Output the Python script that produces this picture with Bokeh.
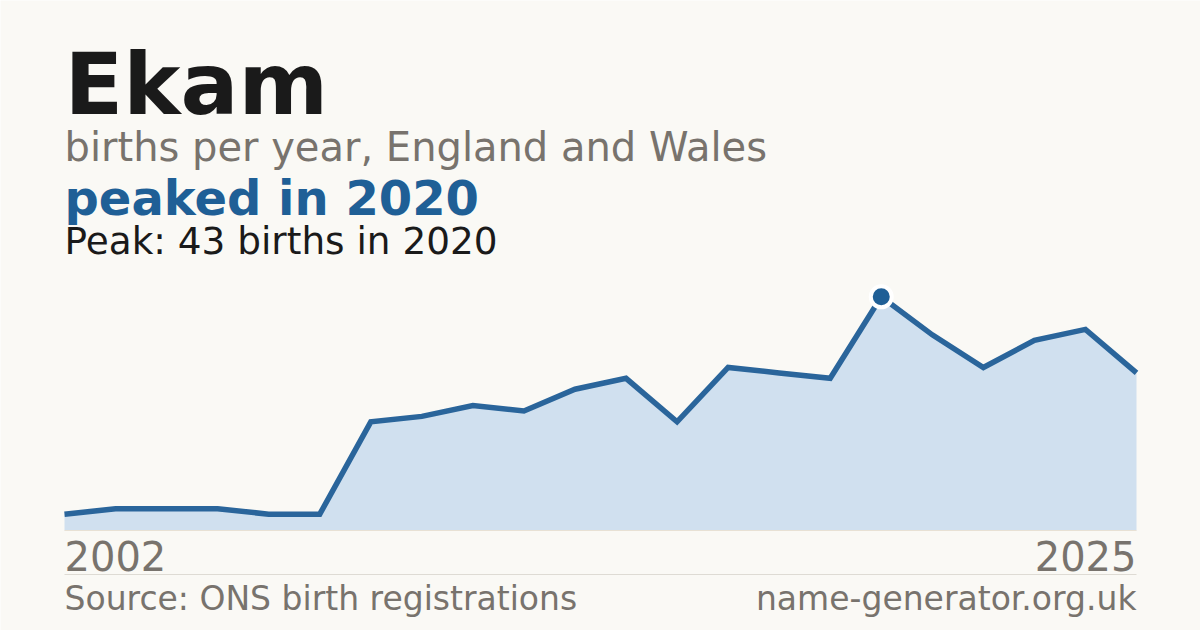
from bokeh.plotting import figure
from bokeh.models import Range1d, Label, BoxAnnotation
from bokeh.embed import file_html
from bokeh.resources import INLINE

# ---- data ----
name = "Ekam"
years = [2002, 2003, 2004, 2005, 2006, 2007, 2010, 2011, 2012, 2013, 2014,
         2015, 2016, 2017, 2018, 2019, 2020, 2021, 2022, 2023, 2024, 2025]
births = [3, 4, 4, 4, 3, 3, 20, 21, 23, 22, 26,
          28, 20, 30, 29, 28, 43, 36, 30, 35, 37, 29]
subtitle = "births per year, England and Wales"
source = "Source: ONS birth registrations"
site = "name-generator.org.uk"

BG = "#faf9f5"
BLUE = "#1f5f96"
GREY = "#78736d"
DARK = "#1a1a1a"
FONT = "DejaVu Sans"

W, H = 1200, 630
LEFT, RIGHT = 64, 1136        # chart area, px
TOP, BASE = 280, 530          # chart area, px
YMAX = 46

idx = list(range(len(years)))
peak_i = max(idx, key=lambda i: births[i])
peak_year = years[peak_i]
peak_val = births[peak_i]

n = len(years) - 1
xs = (RIGHT - LEFT) / n
ys = (BASE - TOP) / YMAX
x_range = Range1d(-LEFT / xs, n + (W - RIGHT) / xs)
y_range = Range1d(-(H - BASE) / ys, BASE / ys)

p = figure(width=W, height=H, output_backend="svg", toolbar_location=None,
           x_range=x_range, y_range=y_range, min_border=0,
           background_fill_color=BG, border_fill_color=BG,
           outline_line_color=None)
p.axis.visible = False
p.grid.visible = False

p.varea(x=idx, y1=[0] * len(idx), y2=births, fill_color="#d0e0ef")
p.segment(x0=[idx[0]], x1=[idx[-1]], y0=[0], y1=[0], line_color="#e8e1d4", line_width=1)
p.line(x=idx, y=births, line_color="#2a659b", line_width=5.5, line_join="miter")
p.scatter(x=[peak_i], y=[peak_val], size=21, fill_color=BLUE,
          line_color="white", line_width=4)

def lab(text, x, base_y, size, color, bold=False, align="left", xu="screen"):
    # base_y: wanted baseline, px from top; shift compensates the renderer's baseline offset
    y = H - base_y + 0.375 * size
    p.add_layout(Label(x=x, y=y, x_units=xu, y_units="screen", text=text,
                       text_font=FONT, text_font_size=f"{size}px",
                       text_color=color, text_align=align,
                       text_baseline="alphabetic",
                       text_font_style="bold" if bold else "normal"))

lab(name, LEFT, 116, 86, DARK, bold=True)
lab(subtitle, LEFT, 161, 40, GREY)
lab(f"peaked in {peak_year}", LEFT, 215, 48, BLUE, bold=True)
lab(f"Peak: {peak_val} births in {peak_year}", LEFT, 255, 37.4, DARK)

lab(str(years[0]), idx[0], 570, 40, GREY, align="left", xu="data")
lab(str(years[-1]), idx[-1], 570, 40, GREY, align="right", xu="data")

p.add_layout(BoxAnnotation(left=LEFT, right=RIGHT, bottom=H - 574.5, top=H - 573.5,
                           left_units="screen", right_units="screen",
                           top_units="screen", bottom_units="screen",
                           fill_color="#dedbd4", fill_alpha=1, line_color=None))

lab(source, LEFT, 610, 33, GREY)
lab(site, RIGHT, 610, 33, GREY, align="right")

open("out.html", "w").write(file_html(p, INLINE))
